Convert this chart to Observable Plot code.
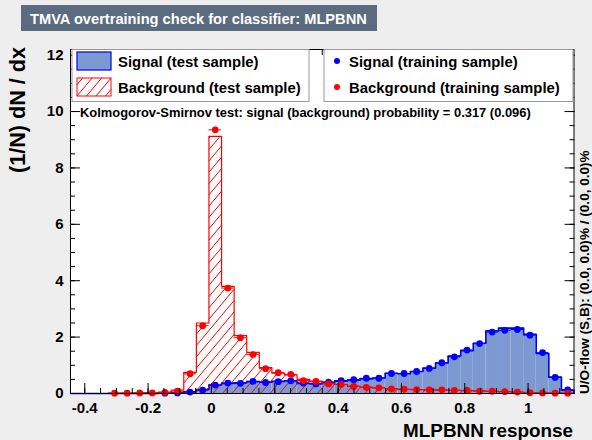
<!DOCTYPE html>
<html><head><meta charset="utf-8">
<script src="https://cdn.jsdelivr.net/npm/d3@7"></script>
<script src="https://cdn.jsdelivr.net/npm/@observablehq/plot@0.6"></script>
<style>
html,body{margin:0;padding:0;background:#eeeeee;}
#chart{position:relative;width:592px;height:440px;overflow:hidden}
</style></head><body>
<div id="chart"></div>
<script>
// ---- data (40 bins) ----
const binLow = -0.445, binHigh = 1.145, nBins = 40;
const signalTest = [0,0,0,0,0,0,0,0.01,0.02,0.06,0.14,0.3,0.36,0.38,0.42,0.41,0.43,0.45,0.36,0.35,
  0.4,0.44,0.47,0.52,0.55,0.72,0.7,0.78,0.9,1.08,1.33,1.52,1.78,2.22,2.32,2.32,2.1,1.42,0.58,0.12];
const backgroundTest = [0,0,0,0.01,0.01,0.02,0.03,0.05,0.12,0.75,2.5,9.12,3.8,2.05,1.46,0.92,0.72,0.66,0.5,0.44,
  0.36,0.32,0.26,0.23,0.2,0.17,0.15,0.14,0.13,0.12,0.11,0.1,0.09,0.08,0.07,0.05,0.03,0.02,0.01,0.01];
const signalTrain = [null,null,null,null,null,null,null,0.01,0.02,0.05,0.12,0.3,0.37,0.36,0.43,0.39,0.42,0.45,0.37,0.34,
  0.4,0.46,0.49,0.54,0.54,0.71,0.71,0.78,0.89,1.09,1.3,1.54,1.77,2.18,2.24,2.27,2.07,1.45,0.57,0.13];
const backgroundTrain = [null,null,null,0.01,0.01,0.02,0.02,0.04,0.08,0.7,2.4,9.35,3.74,1.98,1.38,0.88,0.74,0.68,0.46,0.43,
  0.34,0.32,0.25,0.22,0.2,0.16,0.15,0.14,0.13,0.13,0.11,0.11,0.08,0.08,0.07,0.05,0.03,0.02,0.01,0.01];
const xTicks = [-0.4,-0.2,0,0.2,0.4,0.6,0.8,1];
const yTicks = [0,2,4,6,8,10,12];
const yMax = 12.2;

const titleText = "TMVA overtraining check for classifier: MLPBNN";
const ksText = "Kolmogorov-Smirnov test: signal (background) probability = 0.317 (0.096)";
const flowText = "U/O-flow (S,B): (0.0, 0.0)% / (0.0, 0.0)%";
const legendLeft = ["Signal (test sample)", "Background (test sample)"];
const legendRight = ["Signal (training sample)", "Background (training sample)"];

// ---- layout ----
const W = 592, H = 440, mL = 70, mR = 18.5, mT = 49, mB = 47;
const FONT = "'Liberation Sans', Arial, Helvetica, sans-serif";
const SIGFILL = "#7d99d1", SIGLINE = "#0000ee", BKG = "#ff0000";

// ---- derived tables ----
const bw = (binHigh - binLow) / nBins;
const bins = d3.range(nBins).map(i => ({
  x1: binLow + i*bw, x2: binLow + (i+1)*bw, xc: binLow + (i+0.5)*bw,
  s: signalTest[i], b: backgroundTest[i], st: signalTrain[i], bt: backgroundTrain[i]
}));
function steps(vals) {
  const pts = [{x: binLow, y: 0}];
  bins.forEach((d, i) => { pts.push({x: d.x1, y: vals[i]}, {x: d.x2, y: vals[i]}); });
  pts.push({x: binHigh, y: 0});
  return pts;
}
const sTrain = bins.filter(d => d.st != null);
const bTrain = bins.filter(d => d.bt != null);
const xMinor = d3.range(-0.45, 1.1501, 0.05).map(v => +v.toFixed(2)).filter(v => v >= binLow && v <= binHigh);
const yMinor = d3.range(0, yMax, 0.5);
const fmt = d => (d < 0 ? "-" : "") + String(+Math.abs(d).toFixed(1));

// hatch texture (ROOT fill style "///") for the background histogram, as line segments in data space
const kx = (W - mL - mR) / (binHigh - binLow), ky = (H - mT - mB) / yMax; // px per unit
const slope = 1.19, spacing = 9.5; // pixel-space slope and horizontal spacing
function hatchSegments(X1, X2, Hpx) {
  const segs = [];
  const k0 = Math.floor((X1 - Hpx / slope) / spacing), k1 = Math.ceil(X2 / spacing);
  for (let k = k0; k <= k1; k++) {
    const X0 = k * spacing;
    const lo = Math.max(X1, X0), hi = Math.min(X2, X0 + Hpx / slope);
    if (hi - lo > 0.05) segs.push([lo, slope * (lo - X0), hi, slope * (hi - X0)]);
  }
  return segs;
}
const hatch = [];
bins.forEach(d => {
  if (!(d.b > 0)) return;
  hatchSegments((d.x1 - binLow) * kx, (d.x2 - binLow) * kx, d.b * ky).forEach(([a, b, c, e]) =>
    hatch.push({x1: binLow + a / kx, y1: b / ky, x2: binLow + c / kx, y2: e / ky}));
});

const plot = Plot.plot({
  width: W, height: H,
  marginLeft: mL, marginRight: mR, marginTop: mT, marginBottom: mB,
  style: {background: "transparent", color: "black", fontFamily: FONT},
  x: {domain: [binLow, binHigh], label: null},
  y: {domain: [0, yMax], label: null},
  marks: [
    Plot.frame({fill: "white", stroke: "none"}),
    Plot.rectY(bins, {x1: "x1", x2: "x2", y: "s", fill: SIGFILL}),
    Plot.line(steps(signalTest), {x: "x", y: "y", stroke: SIGLINE, strokeWidth: 1.6}),
    Plot.link(hatch, {x1: "x1", y1: "y1", x2: "x2", y2: "y2", stroke: BKG, strokeWidth: 1}),
    Plot.line(steps(backgroundTest), {x: "x", y: "y", stroke: BKG, strokeWidth: 1.2}),
    Plot.ruleY(sTrain, {x1: "x1", x2: "x2", y: "st", stroke: "blue", strokeWidth: 1}),
    Plot.dot(sTrain, {x: "xc", y: "st", r: 3.4, fill: "blue", stroke: "none"}),
    Plot.ruleY(bTrain, {x1: "x1", x2: "x2", y: "bt", stroke: BKG, strokeWidth: 1}),
    Plot.dot(bTrain, {x: "xc", y: "bt", r: 3.4, fill: BKG, stroke: "none"}),
    // axes: ROOT style, ticks inside on all four sides
    Plot.axisX(xTicks, {anchor: "bottom", tickSize: -10, tickPadding: 19, tickFormat: fmt, fontSize: 15, fontWeight: "bold", label: null}),
    Plot.axisX(xMinor, {anchor: "bottom", tickSize: -5, fill: "none", label: null}),
    Plot.axisX(xTicks, {anchor: "top", tickSize: -10, fill: "none", label: null}),
    Plot.axisX(xMinor, {anchor: "top", tickSize: -5, fill: "none", label: null}),
    Plot.axisY(yTicks, {anchor: "left", tickSize: -10, tickPadding: 17, fontSize: 15, fontWeight: "bold", label: null}),
    Plot.axisY(yMinor, {anchor: "left", tickSize: -5, fill: "none", label: null}),
    Plot.axisY(yTicks, {anchor: "right", tickSize: -10, fill: "none", label: null}),
    Plot.axisY(yMinor, {anchor: "right", tickSize: -5, fill: "none", label: null}),
    Plot.frame({stroke: "black", strokeWidth: 1})
  ]
});
document.getElementById("chart").appendChild(plot);

const svg = d3.select(plot);

function fit(sel, target) {
  const w = sel.node().getComputedTextLength();
  const fs = parseFloat(sel.attr("font-size"));
  sel.attr("font-size", (fs * target / w).toFixed(2));
  return sel;
}
const g = svg.append("g").attr("font-family", FONT).attr("font-weight", "bold").attr("text-anchor", "start");

// title box
g.append("rect").attr("x", 21).attr("y", 5).attr("width", 356).attr("height", 26).attr("fill", "#5b6b80");
fit(g.append("text").attr("x", 30).attr("y", 23.5).attr("fill", "white").attr("font-size", 15).text(titleText), 337);

// legend boxes
g.append("rect").attr("x", 72).attr("y", 49.5).attr("width", 237).attr("height", 52).attr("fill", "white").attr("stroke", "#999").attr("stroke-width", 1);
g.append("rect").attr("x", 324).attr("y", 49.5).attr("width", 249).attr("height", 52).attr("fill", "white").attr("stroke", "#999").attr("stroke-width", 1);
g.append("rect").attr("x", 77).attr("y", 52).attr("width", 34).attr("height", 18).attr("fill", SIGFILL).attr("stroke", SIGLINE).attr("stroke-width", 1.2);
// legend hatched swatch
const sw = {x: 77, y: 78, w: 34, h: 18};
g.append("rect").attr("x", sw.x).attr("y", sw.y).attr("width", sw.w).attr("height", sw.h).attr("fill", "white");
hatchSegments(0, sw.w, sw.h).forEach(([a, b, c, e]) =>
  g.append("line").attr("x1", sw.x + a).attr("y1", sw.y + sw.h - b).attr("x2", sw.x + c).attr("y2", sw.y + sw.h - e)
   .attr("stroke", BKG).attr("stroke-width", 1));
g.append("rect").attr("x", sw.x).attr("y", sw.y).attr("width", sw.w).attr("height", sw.h).attr("fill", "none").attr("stroke", BKG).attr("stroke-width", 1);

const lt0 = g.append("text").attr("x", 118).attr("y", 67).attr("font-size", 14).text(legendLeft[0]);
const lt1 = g.append("text").attr("x", 118).attr("y", 93).attr("font-size", 14).text(legendLeft[1]);
g.append("circle").attr("cx", 337).attr("cy", 61).attr("r", 3).attr("fill", "blue");
g.append("circle").attr("cx", 337).attr("cy", 87).attr("r", 3).attr("fill", BKG);
const rt0 = g.append("text").attr("x", 349).attr("y", 67).attr("font-size", 14).text(legendRight[0]);
const rt1 = g.append("text").attr("x", 349).attr("y", 93).attr("font-size", 14).text(legendRight[1]);
fit(rt1, 211);
const lfs = rt1.attr("font-size");
[lt0, lt1, rt0].forEach(t => t.attr("font-size", lfs));

// KS text
fit(g.append("text").attr("x", 80).attr("y", 117).attr("font-size", 11.5).text(ksText), 451);

// axis titles
fit(g.append("text").attr("x", 573).attr("y", 437).attr("text-anchor", "end").attr("font-size", 18).text("MLPBNN response"), 170);
fit(g.append("text").attr("transform", "translate(25,47) rotate(-90)").attr("text-anchor", "end").attr("font-size", 17).text("(1/N) dN / dx"), 126);
fit(g.append("text").attr("transform", "translate(589,394) rotate(-90)").attr("text-anchor", "start").attr("font-size", 11).text(flowText), 244);
</script></body></html>
